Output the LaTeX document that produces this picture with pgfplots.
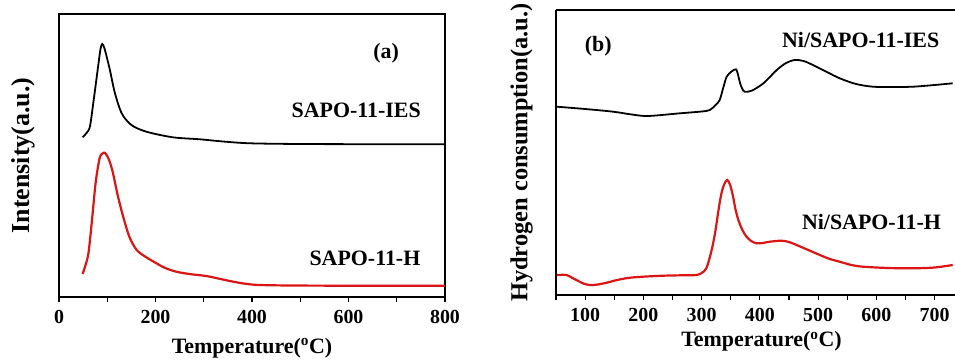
\documentclass[border=0pt]{standalone}
\usepackage{fontspec}
\setmainfont{Liberation Serif}
\usepackage{pgfplots}
\pgfplotsset{compat=1.18}
\definecolor{cred}{RGB}{220,20,20}
\tikzset{
  xlab/.style={font=\fontsize{22}{24}\selectfont\bfseries, anchor=center},
  tlab/.style={font=\fontsize{20}{22}\selectfont\bfseries, yshift=-5bp},
}
\pgfplotsset{
  myax/.style={
    scale only axis, anchor=south west,
    /pgf/number format/assume math mode=true,
    ytick=\empty,
    axis line style={line width=1.6pt},
    tick style={line width=1.2pt, black},
    major tick length=5bp, minor tick length=5bp,
    tick align=outside,
    xtick pos=bottom,
    clip=false,
  },
}
\begin{document}
\begin{tikzpicture}[x=1bp,y=1bp]
\path[use as bounding box] (0,0) rectangle (955,360);
% Panel (a)
\begin{axis}[myax,
  at={(59bp,63bp)}, width=386bp, height=283bp,
  xmin=0, xmax=800, ymin=0, ymax=283,
  xtick={0,200,400,600,800}, minor xtick={100,300,500,700},
  xticklabel style={tlab},
  xlabel={Temperature(\textsuperscript{o}C)},
  xlabel style={xlab, at={(axis description cs:0.5,-0.18)}},
  ylabel={Intensity(a.u.)},
  ylabel style={font=\fontsize{26}{28}\selectfont\bfseries, anchor=center, at={(axis description cs:-0.093,0.5)}},
]
\addplot[black, line width=1.8pt, smooth, tension=0.5] coordinates {
(49,159.7) (57,164) (64,170.3) (71,193.7) (81,230.3) (86,248) (89.6,253) (94,249)
(100,238) (105.5,227) (116,203.7) (130,183.7) (150,172) (181,165.3) (236,159.7)
(292,157.7) (340,155.5) (396,153.7) (500,153) (650,152.8) (800,152.7)};
\addplot[cred, line width=2.2pt, smooth, tension=0.5] coordinates {
(49,23) (55,32) (61,43.7) (68,75) (75,110.3) (80,128) (85,140.3) (90,143.5) (95,144.3)
(101,140) (106,134) (112,123.7) (122,101) (133,80.3) (146,60) (161,47) (180,40)
(202,33.7) (220,29) (243,25.3) (270,23) (305,21) (330,18.5) (361,15.3) (390,13)
(416,12) (480,11.5) (600,11.3) (800,11.3)};
\node[font=\fontsize{22}{24}\selectfont\bfseries] at (axis cs:678,243.7) {(a)};
\node[font=\fontsize{22}{24}\selectfont\bfseries] at (axis cs:616,187) {SAPO-11-IES};
\node[font=\fontsize{22}{24}\selectfont\bfseries] at (axis cs:634,38.7) {SAPO-11-H};
\end{axis}
% Panel (b)
\begin{axis}[myax,
  at={(556bp,65bp)}, width=399bp, height=285bp,
  xmin=50, xmax=735, ymin=0, ymax=285,
  axis x line=box, axis y line=left,
  x axis line style={-}, y axis line style={-},
  tick align=outside,
  xtick={100,200,300,400,500,600,700}, minor xtick={50,150,250,350,450,550,650},
  xticklabel style={tlab},
  xlabel={Temperature(\textsuperscript{o}C)},
  xlabel style={xlab, at={(axis description cs:0.515,-0.163)}},
  ylabel={Hydrogen consumption(a.u.)},
  ylabel style={font=\fontsize{24.5}{26}\selectfont\bfseries, anchor=center, rotate=0, at={(axis description cs:-0.086,0.5)}},
]
\addplot[black, line width=1.8pt, smooth, tension=0.5] coordinates {
(51,188.3) (100,186) (148,183.3) (180,180.5) (208,179) (263,181.7) (300,183.5) (314,185)
(324,190) (331,195) (337,207) (343,218.3) (351,223.3) (359,225.7) (363,219) (366,211.7)
(370,206) (374,203.3) (386,204.3) (406,211.7) (429,225) (445,232) (460,235) (475,234)
(491,230) (515,223) (537,216.7) (565,211) (594,208.3) (630,208) (663,208.3) (700,210) (731,211.7)};
\addplot[cred, line width=2.2pt, smooth, tension=0.5] coordinates {
(52,20) (68,20) (78,17) (85,15) (97,11.5) (108,10) (122,10.5) (137,12.3) (155,15)
(177,17.3) (205,18.5) (234,19.3) (265,19.7) (291,20) (300,22) (308,26.7) (316,42)
(323,61.7) (329,85) (334,101.7) (339,111) (344,115) (349,110) (354,98.3) (358,86)
(363,75) (370,65) (377,58.3) (385,54) (394,51.7) (405,52) (417,53.3) (437,54.3)
(450,53) (463,50) (483,45) (503,40) (520,36) (537,33.3) (557,30) (577,28.3) (620,27)
(663,26.7) (700,27.5) (731,30)};
\node[font=\fontsize{22}{24}\selectfont\bfseries] at (axis cs:122.6,248.3) {(b)};
\node[font=\fontsize{22}{24}\selectfont\bfseries] at (axis cs:573,255) {Ni/SAPO-11-IES};
\node[font=\fontsize{22}{24}\selectfont\bfseries] at (axis cs:591.5,73.3) {Ni/SAPO-11-H};
\end{axis}
\end{tikzpicture}
\end{document}
